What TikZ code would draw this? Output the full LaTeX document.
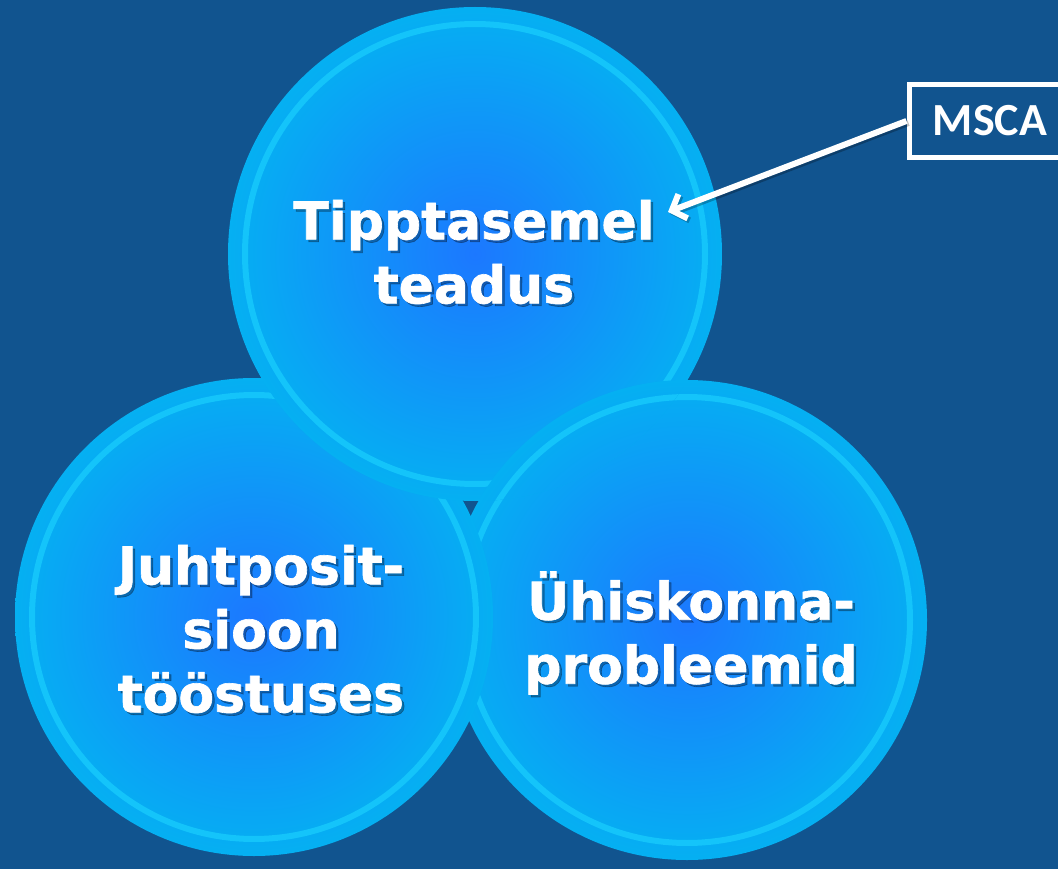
\documentclass[tikz,border=0pt]{standalone}
\usepackage{fontspec}
\usepackage{tikz}
\usetikzlibrary{arrows.meta}
\newfontfamily\bubblefont{DejaVu Sans}[BoldFeatures={FakeBold=1.2}]
\newfontfamily\boxfont{Carlito}
\definecolor{slideColor}{HTML}{11548F}
\definecolor{bubbleInner}{HTML}{1C78FF}
\definecolor{bubbleOuter}{HTML}{05B0F2}
\definecolor{ringColor}{HTML}{14C4FA}
\tikzset{bubble/.style={circle, inner sep=0pt, minimum size=2*#1, shading=radial, inner color=bubbleInner, outer color=bubbleOuter,
	path picture={\draw[ringColor, line width=6pt] (path picture bounding box.center) circle (#1-17pt);}}}
\tikzstyle{lbl} = [text=white, align=center, font=\bubblefont\bfseries\fontsize{52}{64}\selectfont]
\tikzstyle{lblshadow} = [lbl, text=black, text opacity=0.3, xshift=2.5pt, yshift=-2.5pt]
\tikzstyle{mscabox} = [rectangle, draw=white, line width=5pt, minimum width=162pt, minimum height=73pt, text=white, font=\boxfont\bfseries\fontsize{46}{50}\selectfont]
\tikzstyle{arrow} = [white, line width=6pt, -{Straight Barb[length=12pt, width=26pt]}]
\tikzstyle{arrowshadow} = [arrow, black, opacity=0.25, transform canvas={shift={(2pt,-2pt)}}]

\begin{document}
\begin{tikzpicture}[x=1pt, y=-1pt]
	\fill [slideColor] (0,0) rectangle (1058,869);
	\useasboundingbox (0,0) rectangle (1058,869);
	
	\node (uhiskond) [bubble=240pt] at (687,620) {};
	\node (toostus) [bubble=239pt] at (254,617) {};
	\node (teadus) [bubble=247pt] at (475,254) {};
	% right bubble lies over the top one
	\begin{scope}
		\clip (475,254) circle (247pt);
		\node (uhiskondOver) [bubble=240pt] at (687,620) {};
	\end{scope}
	
	\node (teadusShadow) [lblshadow] at (474,252) {Tipptasemel\\teadus};
	\node (teadusText) [lbl] at (474,252) {Tipptasemel\\teadus};
	\node (toostusShadow) [lblshadow] at (261,629) {Juhtposit-\\sioon\\tööstuses};
	\node (toostusText) [lbl] at (261,629) {Juhtposit-\\sioon\\tööstuses};
	\node (uhiskondShadow) [lblshadow] at (691,633) {Ühiskonna-\\probleemid};
	\node (uhiskondText) [lbl] at (691,633) {Ühiskonna-\\probleemid};
	
	\node (msca) [mscabox] at (990,121) {MSCA};
	\coordinate (tip) at (668,212);
	
	\draw [arrowshadow] (msca.west) -- (tip);
	\draw [arrow] (msca.west) -- (tip);
\end{tikzpicture}
\end{document}
